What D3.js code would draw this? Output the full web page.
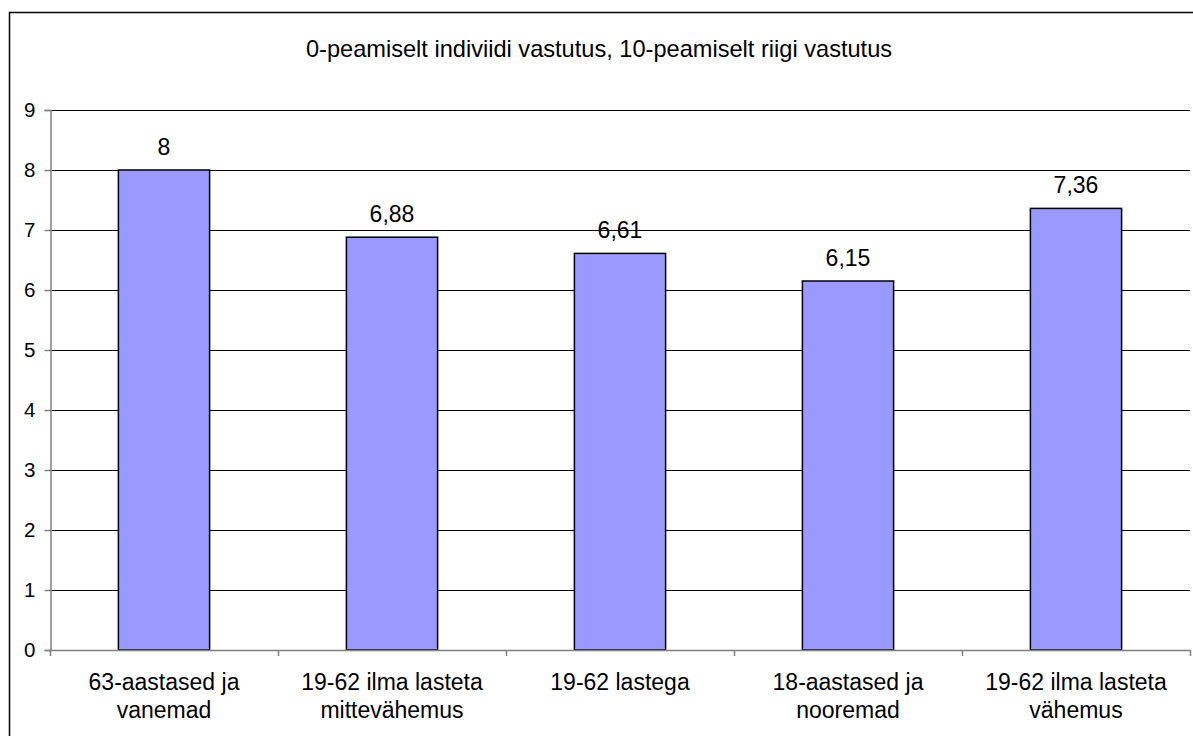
<!DOCTYPE html>
<html>
<head>
<meta charset="utf-8">
<script src="https://cdn.jsdelivr.net/npm/d3@7"></script>
<style>
  body { margin: 0; background: #fff; }
  svg { display: block; font-family: "Liberation Sans", Arial, sans-serif; }
</style>
</head>
<body>
<script>
// chart data
const title = "0-peamiselt indiviidi vastutus, 10-peamiselt riigi vastutus"
const categories = [
  ["63-aastased ja", "vanemad"],
  ["19-62 ilma lasteta", "mittevähemus"],
  ["19-62 lastega"],
  ["18-aastased ja", "nooremad"],
  ["19-62 ilma lasteta", "vähemus"]
]
const values = [8, 6.88, 6.61, 6.15, 7.36]
const valueLabels = ["8", "6,88", "6,61", "6,15", "7,36"]
const yTicks = [0, 1, 2, 3, 4, 5, 6, 7, 8, 9]

const width = 1193, height = 736
const margin = { left: 50, right: 3, top: 110, bottom: 86 }

const svg = d3.select("body").append("svg")
  .attr("width", width)
  .attr("height", height)

// outer frame
svg.append("rect")
  .attr("x", 9.5).attr("y", 12.5)
  .attr("width", width + 10).attr("height", height + 10)
  .attr("fill", "none").attr("stroke", "#000").attr("stroke-width", 1.5)

svg.append("text")
  .attr("x", 599).attr("y", 57)
  .attr("text-anchor", "middle")
  .attr("font-size", 23.6)
  .text(title)

let x = d3.scaleBand()
  .domain(d3.range(categories.length))
  .range([margin.left, width - margin.right])
  .paddingInner(0.6).paddingOuter(0.3)

let y = d3.scaleLinear()
  .domain([0, 9])
  .range([height - margin.bottom, margin.top])

// gridlines
svg.append("g").selectAll("line")
  .data(yTicks.filter(d => d > 0))
  .enter().append("line")
  .attr("x1", margin.left).attr("x2", width - margin.right)
  .attr("y1", d => Math.round(y(d)) + 0.5).attr("y2", d => Math.round(y(d)) + 0.5)
  .attr("stroke", "#000").attr("stroke-width", 1)

// y axis
let yAxis = d3.axisLeft(y).tickValues(yTicks).tickSize(6).tickPadding(9).tickFormat(d3.format("d"))
let gy = svg.append("g")
  .attr("transform", `translate(${margin.left + 0.5},0)`)
  .call(yAxis)
gy.selectAll("path, line").attr("stroke", "#808080").attr("stroke-width", 1.5)
gy.selectAll("text").attr("font-size", 20.5).attr("fill", "#000").attr("font-family", "Liberation Sans, Arial, sans-serif")

// bars
svg.append("g").selectAll("rect")
  .data(values)
  .enter().append("rect")
  .attr("x", (d, i) => x(i))
  .attr("y", d => y(d))
  .attr("width", x.bandwidth())
  .attr("height", d => y(0) - y(d))
  .attr("fill", "#9999ff")
  .attr("stroke", "#000").attr("stroke-width", 1.5)

// value labels
svg.append("g").selectAll("text")
  .data(values)
  .enter().append("text")
  .attr("x", (d, i) => x(i) + x.bandwidth() / 2)
  .attr("y", d => y(d) - 15)
  .attr("text-anchor", "middle")
  .attr("font-size", 23)
  .text((d, i) => valueLabels[i])

// x axis
let xEdges = d3.scaleLinear().domain([0, categories.length]).range([margin.left, width - margin.right])
let gx = svg.append("g")
gx.append("line")
  .attr("x1", margin.left).attr("x2", width - margin.right)
  .attr("y1", y(0) + 0.5).attr("y2", y(0) + 0.5)
  .attr("stroke", "#808080").attr("stroke-width", 1.5)
gx.selectAll("line.tick")
  .data(d3.range(categories.length + 1))
  .enter().append("line")
  .attr("class", "tick")
  .attr("x1", d => Math.round(xEdges(d)) + 0.5).attr("x2", d => Math.round(xEdges(d)) + 0.5)
  .attr("y1", y(0)).attr("y2", y(0) + 6)
  .attr("stroke", "#808080").attr("stroke-width", 1.5)

let labels = gx.selectAll("text")
  .data(categories)
  .enter().append("text")
  .attr("text-anchor", "middle")
  .attr("font-size", 23)
labels.selectAll("tspan")
  .data((d, i) => d.map(s => ({ s, i })))
  .enter().append("tspan")
  .attr("x", d => x(d.i) + x.bandwidth() / 2)
  .attr("y", (d, j) => y(0) + 40 + j * 28)
  .text(d => d.s)
</script>
</body>
</html>
